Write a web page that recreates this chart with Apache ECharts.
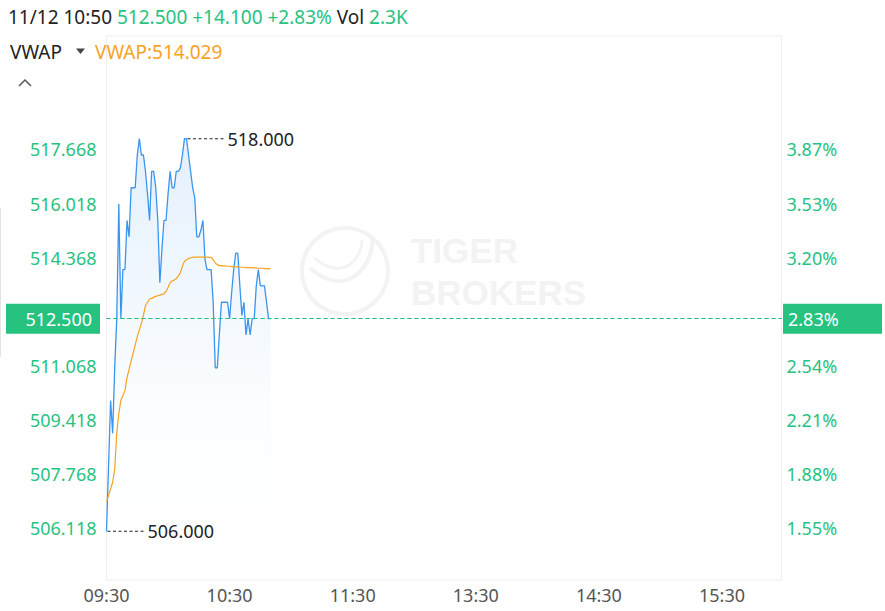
<!DOCTYPE html>
<html>
<head>
<meta charset="utf-8">
<script src="https://cdn.jsdelivr.net/npm/echarts@6/dist/echarts.min.js"></script>
<style>
html,body{margin:0;padding:0;background:#fff;}
#chart{width:885px;height:611px;}
</style>
</head>
<body>
<div id="chart"></div>
<script>
// ---- data ----
const sessions = [['09:30', '11:59'], ['13:00', '15:59']];
const xTickLabels = ['09:30', '10:30', '11:30', '13:30', '14:30', '15:30'];
const yTickValues = [506.118, 507.768, 509.418, 511.068, 514.368, 516.018, 517.668];
const yRange = [504.514, 521.136];
const prevClose = 498.4;
const lastPrice = 512.5;
const prices = [
  506.0, 508.0, 510.0, 509.0, 511.0, 512.5, 516.0, 512.5, 514.0, 514.0,
  515.5, 515.0, 516.5, 516.5, 516.5, 517.5, 518.0, 517.5, 517.5, 517.0,
  516.3, 515.5, 517.0, 517.0, 516.5, 515.5, 513.6, 514.6, 515.5, 515.5,
  516.3, 517.0, 516.5, 516.5, 517.0, 517.0, 517.1, 517.5, 518.0, 518.0,
  517.5, 517.0, 516.5, 516.2, 515.0, 515.0, 515.2, 515.5, 514.3, 514.0,
  514.0, 514.0, 513.0, 511.0, 511.0, 512.0, 513.0, 513.0, 513.0, 513.0,
  512.5, 513.3, 514.0, 514.5, 514.5, 513.5, 512.6, 513.0, 512.0, 512.5,
  512.0, 512.5, 512.5, 513.5, 514.0, 513.5, 513.5, 513.5, 513.0, 512.5,
  512.5
];
const vwap = [
  506.9, 507.1, 507.3, 507.5, 507.9, 509.0, 509.6, 510.0, 510.15, 510.3,
  510.7, 510.95, 511.2, 511.45, 511.7, 511.95, 512.15, 512.35, 512.6, 512.9,
  513.0, 513.1, 513.12, 513.15, 513.18, 513.2, 513.22, 513.24, 513.26, 513.33,
  513.45, 513.6, 513.65, 513.68, 513.72, 513.8, 513.9, 514.1, 514.25, 514.3,
  514.34, 514.36, 514.37, 514.38, 514.38, 514.38, 514.38, 514.38, 514.38, 514.38,
  514.37, 514.37, 514.3, 514.2, 514.15, 514.12, 514.12, 514.11, 514.11, 514.10,
  514.10, 514.09, 514.09, 514.08, 514.08, 514.07, 514.07, 514.07, 514.06, 514.06,
  514.06, 514.05, 514.05, 514.05, 514.04, 514.04, 514.04, 514.03, 514.03, 514.03,
  514.029
];

// ---- categories (trading minutes) ----
function toMin(s){const p=s.split(':');return (+p[0])*60+(+p[1]);}
function fmt(m){const h=Math.floor(m/60),mm=m%60;return (h<10?'0':'')+h+':'+(mm<10?'0':'')+mm;}
const minutes = [];
sessions.forEach(function(s){for(let m=toMin(s[0]);m<=toMin(s[1]);m++) minutes.push(fmt(m));});

const GREEN = '#27c27f';
const BLUE = '#3a95ee';
const ORANGE = '#f7a21d';
const FONT = 'Noto Sans';
const WM = '#f3f3f3';

const maxVal = Math.max.apply(null, prices);
const minVal = Math.min.apply(null, prices);
const maxIdx = prices.lastIndexOf(maxVal);
const minIdx = prices.indexOf(minVal);
const dashPath = 'path://M0,0h3v1h-3z M5.5,0h3v1h-3z M11,0h3v1h-3z M16.5,0h3v1h-3z M22,0h3v1h-3z M27.5,0h3v1h-3z M33,0h3v1h-3z';

function extremePoint(idx, val){
  return {
    coord: [idx, val],
    symbol: dashPath,
    symbolSize: [36, 1],
    symbolOffset: [19, 0],
    itemStyle: {color: '#222'},
    label: {show: true, position: 'right', distance: 4, formatter: val.toFixed(3),
      color: '#222', fontSize: 18, fontFamily: FONT}
  };
}

const chart = echarts.init(document.getElementById('chart'), null, {renderer: 'svg'});
chart.setOption({
  animation: false,
  backgroundColor: '#fff',
  textStyle: {fontFamily: FONT},
  title: [
    {
      left: 3, top: 0,
      text: '{a|11/12 10:50} {g|512.500 +14.100 +2.83%} {a|Vol} {g|2.3K}',
      textStyle: {fontWeight: 'normal', fontSize: 19, rich: {
        a: {color: '#222', fontSize: 19, fontWeight: 'normal', fontFamily: FONT, lineHeight: 24},
        g: {color: GREEN, fontSize: 19, fontWeight: 'normal', fontFamily: FONT, lineHeight: 24}
      }}
    },
    {left: 5, top: 34.5, text: 'VWAP', textStyle: {color: '#222', fontSize: 19, fontWeight: 'normal', fontFamily: FONT, lineHeight: 24}},
    {left: 90, top: 34.5, text: 'VWAP:514.029', textStyle: {color: ORANGE, fontSize: 19, fontWeight: 'normal', fontFamily: FONT, lineHeight: 24}}
  ],
  grid: {left: 106.5, right: 103.5, top: 36, bottom: 31, show: true, borderColor: '#eeeeee', borderWidth: 1, backgroundColor: 'transparent'},
  xAxis: {
    type: 'category', data: minutes, boundaryGap: false,
    axisLine: {show: false}, axisTick: {show: false}, splitLine: {show: false},
    axisLabel: {
      interval: function(i, v){return xTickLabels.indexOf(v) >= 0;},
      color: '#555', fontSize: 18, fontFamily: FONT, margin: 6
    }
  },
  yAxis: [
    {
      type: 'value', position: 'left', min: yRange[0], max: yRange[1],
      axisLine: {show: false}, axisTick: {show: false}, splitLine: {show: false},
      axisLabel: {customValues: yTickValues, formatter: function(v){return v.toFixed(3);},
        color: GREEN, fontSize: 18, fontFamily: FONT, margin: 10}
    },
    {
      type: 'value', position: 'right', min: yRange[0], max: yRange[1],
      axisLine: {show: false}, axisTick: {show: false}, splitLine: {show: false},
      axisLabel: {customValues: yTickValues, formatter: function(v){return ((v/prevClose-1)*100).toFixed(2)+'%';},
        color: GREEN, fontSize: 18, fontFamily: FONT, margin: 5}
    }
  ],
  graphic: [
    {type: 'rect', silent: true, z: -10, shape: {x: 0, y: 208, width: 1, height: 149}, style: {fill: '#e4e4e4'}},
    {type: 'polyline', silent: true, shape: {points: [[19, 86], [25, 80], [31, 86]]}, style: {stroke: '#555', lineWidth: 1.5, fill: null}},
    {type: 'polygon', silent: true, shape: {points: [[76, 48.5], [85, 48.5], [80.5, 54]]}, style: {fill: '#444'}},
    {type: 'group', silent: true, z: -5, children: [
      {type: 'circle', shape: {cx: 345, cy: 271, r: 43}, style: {fill: null, stroke: WM, lineWidth: 4}},
      {type: 'bezierCurve', shape: {x1: 310, y1: 268, x2: 372, y2: 236, cpx1: 348, cpy1: 302, cpx2: 376, cpy2: 262}, style: {fill: null, stroke: WM, lineWidth: 4}},
      {type: 'bezierCurve', shape: {x1: 314, y1: 258, x2: 362, y2: 240, cpx1: 344, cpy1: 282, cpx2: 362, cpy2: 258}, style: {fill: null, stroke: WM, lineWidth: 3}},
      {type: 'text', style: {x: 411, y: 250.5, text: 'TIGER', fill: WM, font: 'bold 35px "Liberation Sans"', verticalAlign: 'middle'}},
      {type: 'text', style: {x: 411, y: 292, text: 'BROKERS', fill: WM, font: 'bold 35px "Liberation Sans"', verticalAlign: 'middle'}}
    ]}
  ],
  series: [
    {
      name: 'Price', type: 'line', data: prices, yAxisIndex: 0,
      showSymbol: false, symbol: 'none',
      lineStyle: {color: BLUE, width: 1.3},
      areaStyle: {color: new echarts.graphic.LinearGradient(0, 0, 0, 1, [
        {offset: 0, color: 'rgba(58,149,238,0.20)'},
        {offset: 0.6, color: 'rgba(58,149,238,0.03)'},
        {offset: 1, color: 'rgba(58,149,238,0)'}
      ])},
      markLine: {
        silent: true, symbol: 'none',
        lineStyle: {color: GREEN, type: [4, 3], width: 1},
        data: [
          {yAxis: lastPrice, label: {show: true, position: 'start', distance: 6.5,
            formatter: lastPrice.toFixed(3), color: '#fff', fontSize: 18, fontFamily: FONT,
            backgroundColor: GREEN, padding: [6, 8, 6, 8], width: 78, align: 'right', lineHeight: 18}},
          {yAxis: lastPrice, label: {show: true, position: 'end', distance: 1.5,
            formatter: ((lastPrice/prevClose-1)*100).toFixed(2)+'%', color: '#fff', fontSize: 18, fontFamily: FONT,
            backgroundColor: GREEN, padding: [6, 5, 6, 5], width: 89, align: 'left', lineHeight: 18}}
        ]
      },
      markPoint: {
        silent: true,
        data: [extremePoint(maxIdx, maxVal), extremePoint(minIdx, minVal)]
      }
    },
    {
      name: 'VWAP', type: 'line', data: vwap, yAxisIndex: 0,
      showSymbol: false, symbol: 'none',
      lineStyle: {color: ORANGE, width: 1.2}
    }
  ]
});
</script>
</body>
</html>
